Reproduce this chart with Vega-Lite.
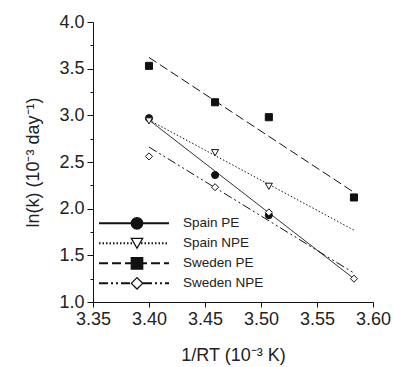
{
  "$schema": "https://vega.github.io/schema/vega-lite/v6.json",
  "width": 280,
  "height": 280,
  "autosize": {"type": "none"},
  "padding": {"left": 93, "top": 22, "right": 21, "bottom": 65},
  "background": "white",
  "config": {
    "view": {"stroke": null},
    "font": "Liberation Sans",
    "axis": {
      "grid": false,
      "domainColor": "#111",
      "tickColor": "#111",
      "domainWidth": 1,
      "tickWidth": 1,
      "labelFont": "Liberation Sans",
      "labelFontSize": 18,
      "labelColor": "#222",
      "titleFont": "Liberation Sans",
      "titleFontSize": 18,
      "titleFontWeight": "normal",
      "titleColor": "#222"
    },
    "legend": {
      "labelFont": "Liberation Sans",
      "labelFontSize": 13.5,
      "labelColor": "#222"
    }
  },
  "datasets": {
    "obs": [
      {"series": "Spain PE", "x": 3.400, "y": 2.97},
      {"series": "Spain PE", "x": 3.459, "y": 2.36},
      {"series": "Spain PE", "x": 3.507, "y": 1.93},
      {"series": "Spain NPE", "x": 3.400, "y": 2.94},
      {"series": "Spain NPE", "x": 3.459, "y": 2.60},
      {"series": "Spain NPE", "x": 3.507, "y": 2.24},
      {"series": "Sweden PE", "x": 3.400, "y": 3.53},
      {"series": "Sweden PE", "x": 3.459, "y": 3.14},
      {"series": "Sweden PE", "x": 3.507, "y": 2.98},
      {"series": "Sweden PE", "x": 3.583, "y": 2.12},
      {"series": "Sweden NPE", "x": 3.400, "y": 2.56},
      {"series": "Sweden NPE", "x": 3.459, "y": 2.23},
      {"series": "Sweden NPE", "x": 3.507, "y": 1.96},
      {"series": "Sweden NPE", "x": 3.583, "y": 1.25}
    ],
    "fits": [
      {"fit": "Spain PE", "x": 3.400, "y": 2.95},
      {"fit": "Spain PE", "x": 3.583, "y": 1.25},
      {"fit": "Spain NPE", "x": 3.400, "y": 2.95},
      {"fit": "Spain NPE", "x": 3.583, "y": 1.77},
      {"fit": "Sweden PE", "x": 3.400, "y": 3.62},
      {"fit": "Sweden PE", "x": 3.583, "y": 2.175},
      {"fit": "Sweden NPE", "x": 3.400, "y": 2.66},
      {"fit": "Sweden NPE", "x": 3.583, "y": 1.31}
    ]
  },
  "encoding": {
    "x": {
      "field": "x", "type": "quantitative",
      "scale": {"domain": [3.35, 3.60], "nice": false, "zero": false},
      "axis": {
        "title": "1/RT (10⁻³ K)",
        "values": [3.35, 3.40, 3.45, 3.50, 3.55, 3.60],
        "format": ".2f",
        "tickSize": 5,
        "labelPadding": 3,
        "titlePadding": 18,
        "labelFlush": false,
        "labelOverlap": false
      }
    },
    "y": {
      "field": "y", "type": "quantitative",
      "scale": {"domain": [1, 4], "nice": false, "zero": false},
      "axis": {
        "title": "ln(k) (10⁻³ day⁻¹)",
        "values": [1, 1.25, 1.5, 1.75, 2, 2.25, 2.5, 2.75, 3, 3.25, 3.5, 3.75, 4],
        "labelExpr": "datum.value % 0.5 == 0 ? format(datum.value, '.1f') : ''",
        "tickSize": {"condition": {"test": "datum.value % 0.5 == 0", "value": 6}, "value": 3},
        "labelPadding": 3,
        "titlePadding": 16,
        "labelFlush": false,
        "labelOverlap": false
      }
    }
  },
  "layer": [
    {
      "data": {"name": "fits"},
      "mark": {"type": "line", "color": "#111", "strokeWidth": 1},
      "encoding": {
        "detail": {"field": "fit"},
        "strokeDash": {
          "field": "fit", "type": "nominal",
          "sort": ["Spain PE", "Spain NPE", "Sweden PE", "Sweden NPE"],
          "scale": {
            "range": [[1, 0], [1.5, 2], [9, 4], [9, 3, 2, 3, 2, 3]]
          },
          "legend": {
            "title": null,
            "orient": "none",
            "legendX": 5,
            "legendY": 192.7,
            "padding": 0,
            "symbolType": "stroke",
            "symbolSize": 4900,
            "symbolStrokeWidth": 2,
            "symbolStrokeColor": "#111",
            "clipHeight": 17.3,
            "rowPadding": 2,
            "labelExpr": "''"
          }
        }
      }
    },
    {
      "data": {"name": "obs"},
      "mark": {"type": "point", "filled": true, "strokeWidth": 1, "size": 50, "opacity": 1},
      "encoding": {
        "shape": {
          "field": "series", "type": "nominal",
          "scale": {
            "domain": ["Spain PE", "Spain NPE", "Sweden PE", "Sweden NPE"],
            "range": ["circle", "triangle-down", "square", "diamond"]
          },
          "legend": {
            "title": null,
            "orient": "none",
            "legendX": 7,
            "legendY": 192.7,
            "padding": 0,
            "symbolSize": 130,
            "symbolStrokeWidth": 1.3,
            "symbolOffset": 30.25,
            "labelOffset": 39.25,
            "clipHeight": 17.3,
            "rowPadding": 2
          }
        },
        "fill": {
          "field": "series", "type": "nominal",
          "scale": {
            "domain": ["Spain PE", "Spain NPE", "Sweden PE", "Sweden NPE"],
            "range": ["#111", "white", "#111", "white"]
          },
          "legend": {
            "title": null,
            "orient": "none",
            "legendX": 7,
            "legendY": 192.7,
            "padding": 0,
            "symbolSize": 130,
            "symbolStrokeWidth": 1.3,
            "symbolOffset": 30.25,
            "labelOffset": 39.25,
            "clipHeight": 17.3,
            "rowPadding": 2
          }
        },
        "stroke": {
          "field": "series", "type": "nominal",
          "scale": {
            "domain": ["Spain PE", "Spain NPE", "Sweden PE", "Sweden NPE"],
            "range": ["#111", "#111", "#111", "#111"]
          },
          "legend": {
            "title": null,
            "orient": "none",
            "legendX": 7,
            "legendY": 192.7,
            "padding": 0,
            "symbolSize": 130,
            "symbolStrokeWidth": 1.3,
            "symbolOffset": 30.25,
            "labelOffset": 39.25,
            "clipHeight": 17.3,
            "rowPadding": 2
          }
        }
      }
    }
  ]
}
